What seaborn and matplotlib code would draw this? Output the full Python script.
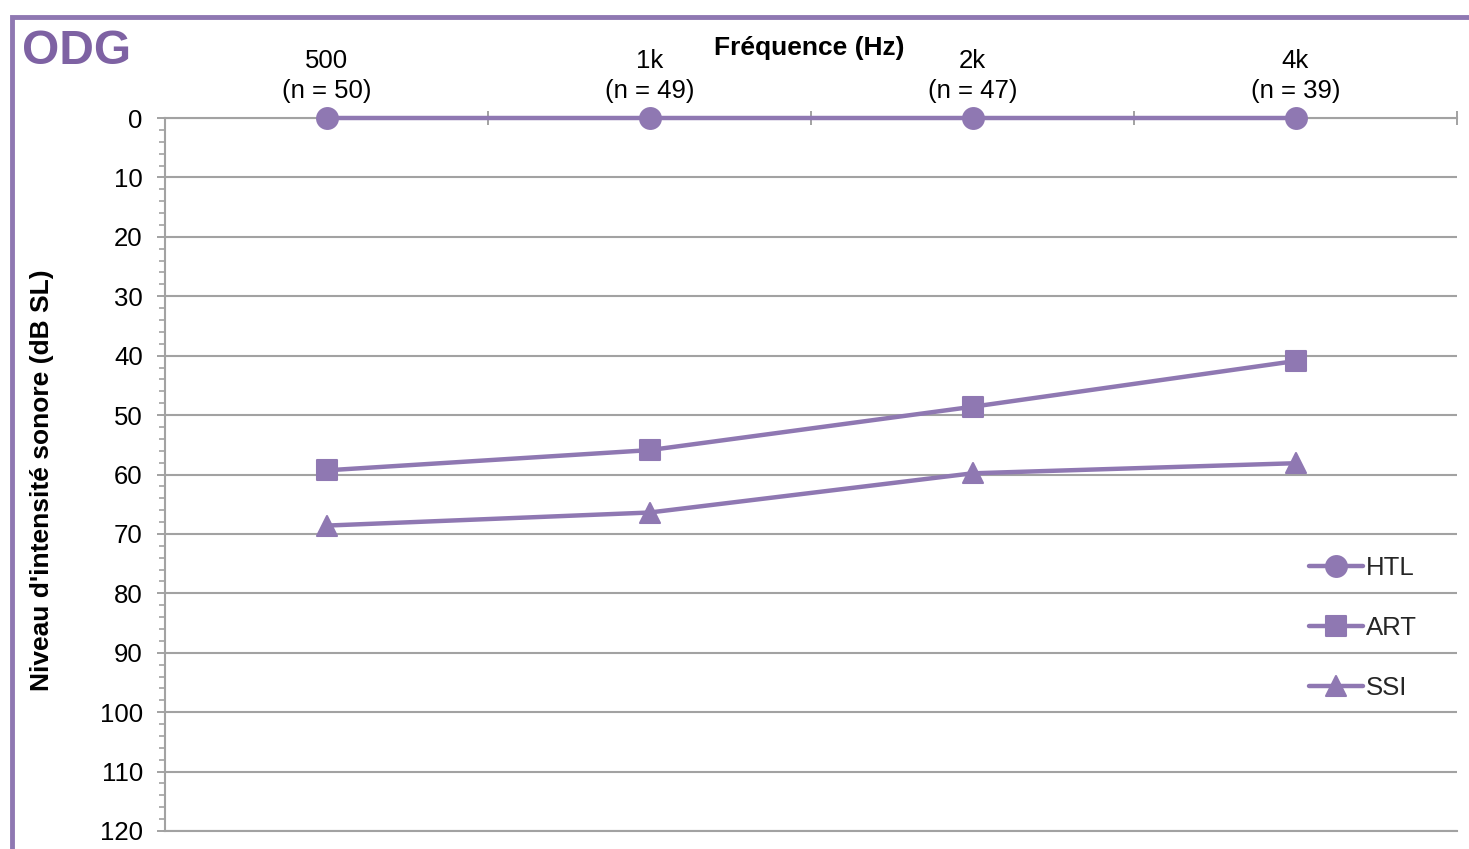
import matplotlib
matplotlib.use("Agg")
import matplotlib.pyplot as plt
from matplotlib.lines import Line2D
from matplotlib.markers import MarkerStyle
from matplotlib.ticker import MultipleLocator
import pandas as pd
import seaborn as sns

# Audiometric data per test frequency
frequencies = ["500", "1k", "2k", "4k"]
counts = [50, 49, 47, 39]
htl = [0, 0, 0, 0]
art = [59.3, 55.9, 48.6, 40.9]
ssi = [68.6, 66.4, 59.8, 58.1]
series_names = ["HTL", "ART", "SSI"]
y_ticks = list(range(0, 121, 10))

sns.set_theme(style="white")
plt.rcParams["font.family"] = ["Liberation Sans", "DejaVu Sans"]

purple = "#8F78B2"
title_purple = "#7E62A3"
grey = "#A2A2A2"
fs = 18.5

W, H = 1469, 849
fig = plt.figure(figsize=(W / 100, H / 100), dpi=100)
ax = fig.add_axes([165 / W, 1 - 831 / H, (1457 - 165) / W, (831 - 118) / H])

positions = list(range(len(frequencies)))
df = pd.DataFrame({
    "position": positions * len(series_names),
    "niveau": htl + art + ssi,
    "serie": [s for s in series_names for _ in frequencies],
})
marker_shapes = {"HTL": "o", "ART": "s", "SSI": "^"}

for name in series_names:
    sns.lineplot(
        data=df[df["serie"] == name], x="position", y="niveau",
        marker=MarkerStyle(marker_shapes[name], joinstyle="round"),
        color=purple, linewidth=3.2, markersize=15, markeredgewidth=1.5,
        markeredgecolor=purple, label=name, errorbar=None, legend=False,
        clip_on=False, zorder=4, ax=ax,
    )

# Axes: frequencies on top, level increasing downwards
ax.set_xlim(-0.5, len(frequencies) - 0.5)
ax.set_ylim(120, 0)
ax.xaxis.tick_top()
ax.set_xticks(positions, labels=[f"{f}\n(n = {n})" for f, n in zip(frequencies, counts)])
ax.set_xticks([p + 0.5 for p in positions], minor=True)
ax.tick_params(axis="x", which="major", length=0, pad=11, labelsize=fs, labelcolor="black")
ax.tick_params(axis="x", which="minor", direction="inout", length=10, width=1.4,
               color=grey, top=True, bottom=False)
for lbl in ax.get_xticklabels():
    lbl.set_linespacing(1.3)

ax.set_yticks(y_ticks)
ax.yaxis.set_minor_locator(MultipleLocator(2))
ax.tick_params(axis="y", which="major", direction="out", length=6, width=1.4,
               color=grey, left=True, pad=10, labelsize=fs, labelcolor="black")
ax.tick_params(axis="y", which="minor", direction="out", length=4, width=1.2,
               color=grey, left=True)

ax.yaxis.grid(True, which="major", color=grey, linewidth=1.5, zorder=0)
ax.xaxis.grid(False)
for side in ["left", "top", "bottom"]:
    ax.spines[side].set_color(grey)
    ax.spines[side].set_linewidth(1.5)
ax.spines["right"].set_visible(False)
ax.set_xlabel("")
ax.set_ylabel("")

ax.legend(loc="upper left", bbox_to_anchor=(0.8855, 0.386), frameon=False,
          borderpad=0, borderaxespad=0, handlelength=2.1, handletextpad=0.12,
          labelspacing=1.4, fontsize=fs, numpoints=1)

fig.text(809 / W, 1 - 48 / H, "Fréquence (Hz)", ha="center", va="center",
         fontsize=19, fontweight="bold", color="black")
fig.text(42 / W, 1 - 480 / H, "Niveau d'intensité sonore (dB SL)", rotation=90,
         ha="center", va="center", fontsize=19, fontweight="bold", color="black")
fig.text(22 / W, 1 - 52 / H, "ODG", ha="left", va="center",
         fontsize=34.5, fontweight="bold", color=title_purple)

# Panel frame along the top and left edges
fig.add_artist(Line2D([1.0, 11.5 / W, 11.5 / W], [1 - 17 / H, 1 - 17 / H, 0.0],
                      transform=fig.transFigure, color=purple, linewidth=3.5,
                      solid_joinstyle="miter"))

fig.savefig("out.png", dpi=100)
